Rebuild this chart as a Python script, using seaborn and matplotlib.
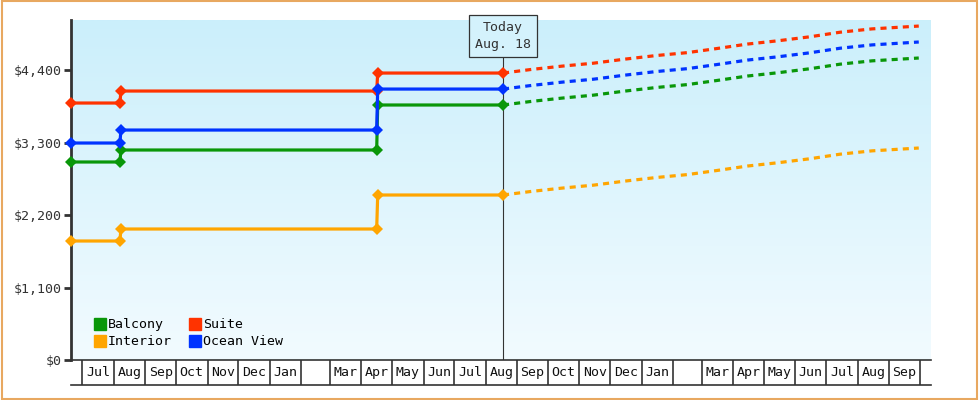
import matplotlib
matplotlib.use("Agg")
import matplotlib.pyplot as plt
import matplotlib.dates as mdates
import seaborn as sns
import pandas as pd
import numpy as np
from matplotlib.patches import Rectangle
from matplotlib.colors import LinearSegmentedColormap
from matplotlib.lines import Line2D

hist_dates = ["2017-06-20", "2017-08-07", "2017-08-08", "2018-04-16", "2018-04-17", "2018-08-18"]
balcony_hist = [3005, 3005, 3187, 3187, 3870, 3870]
suite_hist = [3900, 3900, 4082, 4082, 4355, 4355]
interior_hist = [1806, 1806, 1988, 1988, 2504, 2504]
ocean_hist = [3293, 3293, 3490, 3490, 4112, 4112]

fc_dates = ["2018-08-18", "2018-09-15", "2018-10-15", "2018-11-15", "2018-12-15", "2019-01-15",
            "2019-02-15", "2019-03-15", "2019-04-15", "2019-05-15", "2019-06-15", "2019-07-15",
            "2019-08-15", "2019-09-30"]
suite_fc = [4355, 4410, 4460, 4505, 4565, 4620, 4665, 4725, 4795, 4845, 4905, 4975, 5025, 5068]
ocean_fc = [4112, 4167, 4217, 4262, 4322, 4377, 4422, 4482, 4552, 4602, 4662, 4732, 4782, 4826]
balcony_fc = [3870, 3925, 3975, 4020, 4080, 4135, 4180, 4240, 4310, 4360, 4420, 4490, 4540, 4583]
interior_fc = [2504, 2559, 2609, 2654, 2714, 2769, 2814, 2874, 2944, 2994, 3054, 3124, 3174, 3217]

month_labels = ["Jul", "Aug", "Sep", "Oct", "Nov", "Dec", "Jan", "", "Mar", "Apr", "May", "Jun", "Jul",
                "Aug", "Sep", "Oct", "Nov", "Dec", "Jan", "", "Mar", "Apr", "May", "Jun", "Jul", "Aug", "Sep", ""]
yticks = [0, 1100, 2200, 3300, 4400]
ytick_labels = ["$0", "$1,100", "$2,200", "$3,300", "$4,400"]

series = [("Balcony", balcony_hist, balcony_fc, "#099709"),
          ("Suite", suite_hist, suite_fc, "#ff3300"),
          ("Interior", interior_hist, interior_fc, "#ffa500"),
          ("Ocean View", ocean_hist, ocean_fc, "#0033ff")]

FONT = "DejaVu Sans Mono"
plt.rcParams["font.family"] = FONT
fig = plt.figure(figsize=(9.8, 4.0), dpi=100)
fig.patches.append(Rectangle((0.002, 0.003), 0.995, 0.994, transform=fig.transFigure,
                             fill=False, edgecolor="#e8a860", linewidth=1.5))
ax = fig.add_axes([71/980, 40/400, 860/980, 340/400])
xmin, xmax = pd.Timestamp("2017-06-20"), pd.Timestamp("2019-10-12")
ax.set_xlim(xmin, xmax)
ax.set_ylim(0, 5160)
grad = np.linspace(0, 1, 256).reshape(-1, 1)
cmap = LinearSegmentedColormap.from_list("g", ["#f2fbff", "#cbeffb"])
ax.imshow(grad, extent=[mdates.date2num(xmin), mdates.date2num(xmax), 0, 5160],
          origin="lower", aspect="auto", cmap=cmap, zorder=0)

hd = pd.to_datetime(hist_dates)
fd = pd.to_datetime(fc_dates)
for name, h, f, c in series:
    sns.lineplot(x=hd, y=h, ax=ax, color=c, lw=2.3, marker="D", markersize=6,
                 markeredgewidth=0, zorder=3)
    ax.lines[-1].set_clip_on(False)
    sns.lineplot(x=fd, y=f, ax=ax, color=c, lw=2.3, dashes=False, zorder=3)
    ax.lines[-1].set_linestyle((0, (1.9, 1.6)))
    ax.lines[-1].set_dash_capstyle("butt")

today = pd.Timestamp("2018-08-18")
ax.plot([today, today], [0, 4650], color="#333333", lw=0.8, zorder=2)
ax.text(today, 5160 - 10, "Today\nAug. 18", ha="center", va="top", fontsize=9.5,
        color="#333333", linespacing=1.4,
        bbox=dict(boxstyle="square,pad=0.45", fc="#d4f2fc", ec="#333333", lw=0.9), zorder=5)

ax.set_yticks(yticks)
ax.set_yticklabels(ytick_labels, fontsize=9.5, color="#333333")
ax.tick_params(axis="y", length=5, width=2, color="#333333", pad=2)
ax.set_xticks([])
for s in ["top", "right"]:
    ax.spines[s].set_visible(False)
ax.spines["left"].set_linewidth(2)
ax.spines["left"].set_color("#333333")
ax.spines["bottom"].set_linewidth(1.2)
ax.spines["bottom"].set_color("#333333")
ax.set_xlabel("")
ax.set_ylabel("")

order = [0, 2, 1, 3]
handles = [Line2D([], [], ls="none", marker="s", markersize=9, color=series[i][3]) for i in order]
leg = ax.legend(handles, [series[i][0] for i in order], ncol=2, loc="lower left",
                bbox_to_anchor=(0.012, 0.0), frameon=False, fontsize=9.5,
                handletextpad=0.1, columnspacing=1.3, labelspacing=0.3, handlelength=1.0)

bx = fig.add_axes([71/980, 15/400, 860/980, 25/400])
bx.set_xlim(xmin, xmax)
bx.set_ylim(0, 1)
bx.axis("off")
starts = pd.date_range("2017-07-01", periods=len(month_labels), freq="MS")
for st, lab in zip(starts, month_labels):
    bx.axvline(st, color="#333333", lw=1.2)
    end = st + pd.offsets.MonthBegin(1)
    mid = st + (end - st) / 2
    if lab and mid < xmax:
        bx.text(mid, 0.5, lab, ha="center", va="center", fontsize=9.5, color="#111111")
bx.axhline(0, color="#333333", lw=1.2, clip_on=False)

fig.savefig("out.png", dpi=100)
